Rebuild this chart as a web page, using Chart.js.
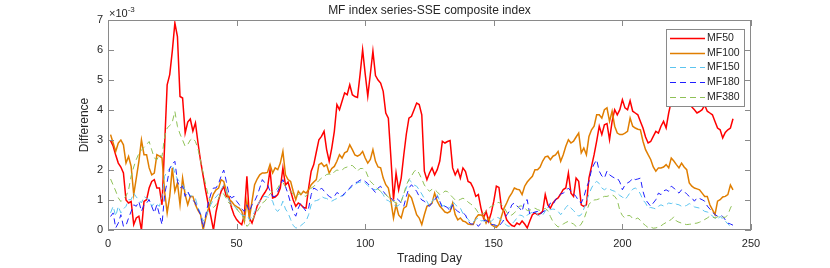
<!DOCTYPE html>
<html>
<head>
<meta charset="utf-8">
<script src="https://cdn.jsdelivr.net/npm/chart.js@4/dist/chart.umd.min.js"></script>
<style>
  html, body { margin: 0; padding: 0; background: #fff; }
  #wrap { width: 830px; height: 268px; }
</style>
</head>
<body>
<div id="wrap"><canvas id="myChart" width="830" height="268"></canvas></div>
<script>
// x positions: trading day index 1..243
const tradingDays = Array.from({ length: 243 }, (_, i) => i + 1);
const xTicks = [0, 50, 100, 150, 200, 250];
const yTicks = [0, 1, 2, 3, 4, 5, 6, 7];
const seriesNames = ['MF50', 'MF100', 'MF150', 'MF180', 'MF380'];

// values in units of 1e-3
const mf50 = [
  2.98, 2.8, 2.5, 2.23, 2.1, 1.9, 1.0, 0.9, 0.95, 0.18,
  0.4, 0.46, 0.0, 0.95, 1.01, 1.4, 1.62, 1.68, 1.4, 1.4,
  0.84, 2.8, 4.84, 5.18, 5.96, 6.9, 6.45, 4.45, 4.4, 3.23,
  3.6, 3.7, 3.3, 3.57, 2.9, 2.3, 1.8, 1.3, 0.85, 0.45,
  0.0, 0.6, 1.0, 1.29, 1.46, 1.12, 1.12, 0.75, 0.5, 0.35,
  0.25, 0.18, 0.5, 1.79, 0.4, 0.23, 0.5, 0.8, 0.95, 1.12,
  1.25, 1.4, 2.0, 1.07, 1.1, 1.18, 1.4, 2.07, 1.5, 1.6,
  1.3, 1.0, 0.79, 0.9, 0.84, 0.75, 0.73, 1.4, 1.96, 2.18,
  2.6, 3.01, 3.12, 3.29, 2.68, 2.29, 2.73, 3.29, 4.18, 4.01,
  4.29, 4.57, 4.51, 4.84, 4.51, 4.45, 4.42, 5.18, 6.01, 5.2,
  4.46, 5.2, 5.96, 5.15, 5.0, 4.9, 4.62, 3.9, 3.73, 2.4,
  1.01, 1.9, 1.34, 1.73, 2.5, 3.2, 3.73, 3.79, 4.01, 4.23,
  4.18, 3.84, 1.96, 1.68, 1.9, 2.07, 1.84, 2.01, 2.3, 2.96,
  2.9, 2.95, 2.98, 2.07, 1.84, 2.01, 1.73, 2.07, 1.95, 1.62,
  1.57, 1.4, 1.12, 1.18, 0.73, 0.4, 0.62, 0.29, 0.57, 0.96,
  1.46, 1.42, 0.73, 0.62, 0.34, 0.23, 0.15, 0.12, 0.23, 0.18,
  0.3, 0.2, 0.07, 0.3, 0.51, 0.57, 0.51, 0.55, 0.62, 1.18,
  0.84, 0.73, 0.9, 1.01, 1.07, 1.2, 1.35, 1.4, 1.9, 1.23,
  1.12, 1.73, 1.62, 0.84, 0.79, 0.84, 1.73, 2.12, 2.51, 2.96,
  3.46, 3.18, 3.51, 3.55, 3.01, 3.62, 4.01, 3.84, 4.01, 4.34,
  4.07, 4.01, 4.31, 3.96, 3.9, 3.84, 3.62, 3.4, 3.1, 2.9,
  2.95, 3.12, 3.29, 3.23, 3.46, 3.62, 3.4, 3.9, 4.29, 4.5,
  4.6, 4.4, 4.5, 4.3, 4.18, 4.18, 4.1, 4.01, 3.9, 3.95,
  4.01, 4.16, 3.96, 3.9, 3.84, 3.62, 3.4, 3.34, 3.07, 3.25,
  3.34, 3.4, 3.71
];

const mf100 = [
  3.18, 2.9, 2.62, 2.9, 3.0, 2.84, 2.23, 2.45, 2.12, 1.18,
  1.73, 2.29, 3.0, 2.51, 2.51, 2.07, 1.84, 1.9, 2.51, 2.46,
  2.4, 1.3, 0.57, 1.12, 2.07, 1.29, 1.57, 0.84, 1.73, 1.18,
  0.84, 1.12, 1.12, 0.84, 0.65, 0.51, 0.0, 0.4, 0.7, 0.96,
  1.2, 1.34, 1.4, 1.68, 1.62, 1.3, 1.01, 0.96, 0.84, 0.78,
  0.73, 0.62, 0.29, 0.96, 0.4, 0.96, 1.51, 1.7, 1.84, 1.9,
  1.9, 1.92, 2.18, 1.9, 2.07, 2.01, 2.23, 2.62, 1.84, 1.68,
  1.62, 1.29, 1.01, 1.29, 1.18, 1.29, 1.23, 1.34, 1.51, 1.6,
  1.68, 2.18, 2.23, 2.12, 2.18, 1.9, 2.05, 2.12, 2.29, 2.51,
  2.4, 2.57, 2.62, 2.84, 2.68, 2.5, 2.46, 2.51, 2.62, 2.4,
  2.23, 2.35, 2.68, 2.29, 2.1, 2.07, 1.73, 1.51, 1.4, 0.96,
  0.4, 0.84, 0.5, 0.4, 0.73, 0.79, 1.18, 1.07, 0.79, 0.51,
  0.4, 0.18, 0.51, 0.79, 0.84, 0.9, 1.23, 0.96, 0.8, 0.7,
  0.6, 0.57, 0.62, 0.9, 0.51, 0.34, 0.4, 0.3, 0.27, 0.2,
  0.18, 0.18, 0.4, 0.51, 0.5, 0.46, 0.23, 0.4, 0.18, 0.12,
  0.09, 0.18, 0.46, 0.73, 0.9, 1.1, 1.23, 1.4, 1.36, 1.34,
  1.18, 1.46, 1.6, 1.7, 1.79, 2.01, 2.01, 2.1, 2.3, 2.44,
  2.46, 2.34, 2.46, 2.5, 2.62, 2.29, 2.51, 2.79, 3.01, 2.9,
  2.96, 3.1, 3.23, 2.57, 2.73, 2.51, 3.12, 3.34, 3.46, 3.84,
  3.84, 3.73, 4.01, 4.07, 3.62, 3.96, 3.46, 3.23, 3.18, 3.18,
  3.23, 3.29, 3.73, 3.46, 3.4, 3.36, 3.34, 2.96, 2.68, 2.51,
  2.35, 2.1, 1.96, 2.07, 2.07, 2.1, 2.18, 2.07, 2.4, 2.3,
  2.18, 2.07, 2.23, 2.1, 2.01, 1.57, 1.46, 1.4, 1.37, 1.34,
  1.23, 1.12, 1.12, 0.84, 0.68, 0.51, 0.96, 1.01, 1.1, 1.12,
  1.18, 1.5, 1.34
];

const mf150 = [
  0.57, 0.79, 0.46, 0.79, 0.57, 0.7, 0.79, 1.01, 1.01, 1.23,
  1.1, 1.01, 0.9, 1.12, 1.05, 1.01, 0.79, 0.9, 0.85, 0.79,
  1.12, 1.79, 1.95, 2.05, 2.18, 1.9, 1.7, 1.6, 1.5, 1.34,
  1.23, 1.15, 1.12, 1.05, 0.75, 0.55, 0.29, 0.45, 0.65, 0.85,
  1.01, 1.1, 1.2, 1.35, 1.5, 1.3, 1.0, 0.85, 0.79, 0.73,
  0.6, 0.5, 0.48, 0.51, 0.34, 0.45, 0.6, 0.8, 0.96, 1.1,
  1.12, 1.1, 1.07, 0.96, 0.7, 0.62, 0.73, 0.96, 0.7, 0.57,
  0.35, 0.15, 0.07, 0.07, 0.15, 0.22, 0.29, 0.51, 0.84, 0.96,
  0.98, 1.01, 1.12, 1.07, 1.05, 1.0, 0.96, 1.01, 1.05, 1.1,
  1.15, 1.18, 1.29, 1.38, 1.45, 1.51, 1.57, 1.6, 1.62, 1.57,
  1.48, 1.42, 1.36, 1.34, 1.37, 1.29, 1.18, 1.01, 0.98, 0.9,
  0.84, 0.79, 0.82, 0.95, 1.2, 1.4, 1.68, 1.6, 1.5, 1.46,
  1.34, 1.2, 1.05, 0.96, 0.79, 0.95, 1.1, 1.18, 0.96, 0.8,
  0.82, 0.78, 0.73, 0.96, 0.85, 0.77, 0.73, 0.55, 0.45, 0.36,
  0.25, 0.27, 0.35, 0.4, 0.3, 0.32, 0.28, 0.23, 0.29, 0.37,
  0.43, 0.4, 0.34, 0.25, 0.15, 0.12, 0.2, 0.29, 0.4, 0.5,
  0.48, 0.4, 0.5, 0.55, 0.6, 0.62, 0.51, 0.45, 0.5, 0.62,
  0.73, 0.68, 0.7, 0.68, 0.62, 0.51, 0.62, 0.75, 0.84, 0.73,
  0.65, 0.55, 0.46, 0.51, 0.7, 0.95, 1.2, 1.4, 1.55, 1.62,
  1.55, 1.4, 1.34, 1.4, 1.36, 1.32, 1.29, 1.23, 1.15, 1.1,
  1.01, 1.12, 1.25, 1.36, 1.4, 1.34, 1.2, 1.0, 0.9, 0.73,
  0.75, 0.73, 0.7, 0.79, 0.84, 0.8, 0.84, 0.9, 0.88, 0.92,
  0.86, 0.84, 0.79, 0.79, 0.82, 0.88, 0.84, 0.77, 0.75, 0.73,
  0.68, 0.62, 0.6, 0.57, 0.46, 0.4, 0.34, 0.46, 0.36, 0.3,
  0.2, 0.12, 0.07
];

const mf180 = [
  0.45, 0.57, 0.07, 0.23, 0.51, 0.12, 0.15, 0.4, 0.62, 0.84,
  0.79, 0.95, 0.62, 0.84, 0.9, 1.01, 0.79, 0.57, 0.84, 0.51,
  0.18, 1.18, 1.6, 2.05, 2.2, 2.29, 1.62, 1.4, 1.46, 1.12,
  1.29, 1.1, 1.0, 0.9, 0.7, 0.51, 0.07, 0.5, 0.9, 1.2,
  1.4, 1.4, 1.55, 1.8, 2.0, 1.62, 1.2, 1.07, 1.12, 0.96,
  0.85, 0.7, 0.62, 0.84, 0.62, 0.84, 0.96, 1.15, 1.4, 1.68,
  1.57, 1.51, 1.3, 1.12, 1.12, 1.29, 1.5, 1.68, 1.45, 1.2,
  0.9, 0.6, 0.46, 0.73, 0.9, 0.75, 0.62, 0.73, 1.18, 1.4,
  1.35, 1.29, 1.4, 1.3, 1.2, 1.12, 1.07, 1.12, 1.25, 1.2,
  1.12, 1.23, 1.3, 1.4, 1.5, 1.57, 1.6, 1.66, 1.68, 1.62,
  1.55, 1.45, 1.35, 1.25, 1.4, 1.46, 1.29, 1.18, 1.1, 1.07,
  0.96, 1.07, 1.0, 0.9, 0.79, 1.12, 1.4, 1.51, 1.4, 1.29,
  1.12, 1.0, 0.96, 0.84, 0.79, 0.9, 1.0, 1.12, 0.96, 0.73,
  0.79, 0.75, 0.62, 0.84, 0.7, 0.62, 0.57, 0.57, 0.5, 0.3,
  0.2, 0.2, 0.23, 0.12, 0.23, 0.3, 0.34, 0.23, 0.18, 0.18,
  0.15, 0.12, 0.23, 0.34, 0.5, 0.62, 0.84, 0.9, 0.8, 0.73,
  0.62, 0.96, 1.01, 0.51, 0.57, 0.6, 0.62, 0.51, 0.6, 0.65,
  0.73, 0.9, 0.84, 1.01, 1.12, 1.2, 1.23, 1.29, 1.4, 1.29,
  1.2, 1.12, 0.96, 0.9, 1.1, 1.4, 1.62, 2.01, 2.2, 2.34,
  1.96, 1.8, 1.73, 1.96, 1.84, 1.78, 1.73, 1.73, 1.6, 1.34,
  1.5, 1.57, 1.62, 1.73, 1.68, 1.7, 1.73, 1.29, 1.01, 0.9,
  0.79, 0.9, 1.01, 1.23, 1.18, 1.3, 1.34, 1.29, 1.46, 1.4,
  1.3, 1.23, 1.34, 1.29, 1.2, 1.12, 1.07, 0.96, 1.07, 1.05,
  1.01, 0.96, 0.8, 0.7, 0.6, 0.51, 0.46, 0.5, 0.45, 0.34,
  0.23, 0.2, 0.16
];

const mf380 = [
  1.7, 1.5, 1.3, 1.07, 0.95, 1.05, 1.12, 1.34, 1.8, 2.1,
  2.35, 2.55, 2.67, 2.75, 2.85, 2.95, 2.67, 2.4, 2.34, 2.51,
  2.45, 3.1, 3.4, 3.48, 3.6, 3.95, 3.45, 3.2, 3.0, 2.79,
  2.85, 3.0, 3.06, 2.95, 2.7, 2.3, 1.9, 1.5, 1.15, 0.85,
  0.75, 0.84, 1.05, 1.25, 1.2, 1.05, 0.9, 0.82, 0.76, 0.7,
  0.6, 0.5, 0.36, 0.12, 0.2, 0.3, 0.5, 0.62, 0.75, 0.9,
  0.96, 1.08, 1.2, 1.29, 1.3, 1.4, 1.55, 1.58, 1.45, 1.37,
  1.3, 1.2, 1.12, 1.18, 1.23, 1.15, 1.12, 1.25, 1.4, 1.45,
  1.55, 1.65, 1.73, 1.78, 1.85, 1.87, 1.84, 1.94, 2.0, 1.98,
  2.0, 2.07, 2.1, 2.15, 2.15, 2.07, 1.96, 2.05, 2.05, 2.01,
  1.8, 1.62, 1.54, 1.45, 1.36, 1.29, 1.23, 1.18, 1.1, 1.02,
  0.95, 0.9, 0.86, 0.95, 1.2, 1.5, 1.68, 1.8, 1.95, 2.01,
  1.88, 1.7, 1.5, 1.38, 1.29, 1.36, 1.35, 1.27, 1.18, 1.21,
  1.3, 1.28, 1.18, 1.09, 1.0, 0.98, 1.02, 1.06, 1.02, 0.93,
  0.87, 0.8, 0.7, 0.57, 0.52, 0.55, 0.62, 0.72, 0.79, 0.82,
  0.9, 0.92, 0.85, 0.75, 0.6, 0.48, 0.5, 0.57, 0.68, 0.8,
  0.8, 0.73, 0.65, 0.66, 0.7, 0.73, 0.68, 0.65, 0.68, 0.72,
  0.65, 0.45, 0.28, 0.18, 0.1, 0.15, 0.2, 0.25, 0.29, 0.24,
  0.2, 0.12, 0.1, 0.2, 0.35, 0.6, 0.85, 0.96, 1.0, 1.01,
  1.04, 1.08, 1.12, 1.12, 1.15, 1.17, 1.12, 1.0, 0.65, 0.48,
  0.4, 0.48, 0.48, 0.38, 0.36, 0.4, 0.32, 0.22, 0.15, 0.08,
  0.1, 0.06, 0.07, 0.1, 0.14, 0.2, 0.25, 0.3, 0.35, 0.44,
  0.3, 0.26, 0.23, 0.2, 0.18, 0.19, 0.2, 0.22, 0.23, 0.26,
  0.3, 0.35, 0.4, 0.46, 0.43, 0.4, 0.44, 0.46, 0.43, 0.42,
  0.51, 0.73, 0.9
];

const FONT = 'Liberation Sans, Arial, Helvetica, sans-serif';
const TEXT = '#262626';

// MATLAB-like box, inward ticks, titles and legend
const matlabAxes = {
    id: 'matlabAxes',
    afterDatasetsDraw(chart) {
        const { ctx, chartArea: a, scales: { x, y } } = chart;
        ctx.save();
        ctx.strokeStyle = '#8a8a8a';
        ctx.lineWidth = 1;
        ctx.strokeRect(a.left + 0.5, a.top + 0.5, a.right - a.left - 1, a.bottom - a.top - 1);

        ctx.beginPath();
        xTicks.forEach(v => {
            const px = Math.round(x.getPixelForValue(v)) + 0.5;
            ctx.moveTo(px, a.bottom); ctx.lineTo(px, a.bottom - 6);
            ctx.moveTo(px, a.top); ctx.lineTo(px, a.top + 6);
        });
        yTicks.forEach(v => {
            const py = Math.round(y.getPixelForValue(v)) + 0.5;
            ctx.moveTo(a.left, py); ctx.lineTo(a.left + 6, py);
            ctx.moveTo(a.right, py); ctx.lineTo(a.right - 6, py);
        });
        ctx.stroke();

        // title and axis labels
        ctx.fillStyle = TEXT;
        ctx.textAlign = 'center';
        ctx.textBaseline = 'middle';
        ctx.font = '12px ' + FONT;
        const cx = (a.left + a.right) / 2;
        ctx.fillText('MF index series-SSE composite index', cx, 11);
        ctx.fillText('Trading Day', cx, 259);
        ctx.save();
        ctx.translate(85, (a.top + a.bottom) / 2);
        ctx.rotate(-Math.PI / 2);
        ctx.fillText('Difference', 0, 0);
        ctx.restore();

        // exponent label
        ctx.textAlign = 'left';
        ctx.textBaseline = 'alphabetic';
        ctx.font = '11px ' + FONT;
        ctx.fillText('\u00d710', 109, 17);
        const w = ctx.measureText('\u00d710').width;
        ctx.font = '8px ' + FONT;
        ctx.fillText('-3', 109 + w, 12);

        // legend
        const lx = 666.5, ly = 29.5, lw = 78, lh = 77;
        ctx.fillStyle = '#ffffff';
        ctx.fillRect(lx, ly, lw, lh);
        ctx.strokeStyle = '#8a8a8a';
        ctx.strokeRect(lx, ly, lw, lh);
        ctx.font = '10.5px ' + FONT;
        ctx.textBaseline = 'middle';
        chart.data.datasets.forEach((ds, i) => {
            const rowY = Math.round(38 + i * 14.7) + 0.5;
            ctx.save();
            ctx.strokeStyle = ds.borderColor;
            ctx.lineWidth = ds.borderWidth;
            ctx.setLineDash(ds.borderDash || []);
            ctx.beginPath();
            ctx.moveTo(670, rowY);
            ctx.lineTo(705, rowY);
            ctx.stroke();
            ctx.restore();
            ctx.fillStyle = TEXT;
            ctx.fillText(ds.label, 707, rowY);
        });
        ctx.restore();
    }
};

const seriesData = [mf50, mf100, mf150, mf180, mf380];
const seriesColors = ['#ff0000', '#e07e00', '#5cc4ef', '#1f1fff', '#8fc157'];
const seriesWidths = [1.5, 1.5, 1, 1, 1];
const seriesDashes = [[], [], [6, 4], [6, 4], [6, 4]];

const datasets = seriesNames.map((name, i) => ({
    label: name,
    data: seriesData[i],
    borderColor: seriesColors[i],
    backgroundColor: seriesColors[i],
    borderWidth: seriesWidths[i],
    borderDash: seriesDashes[i],
    pointRadius: 0,
    tension: 0,
    fill: false,
    order: seriesNames.length - 1 - i
}));

const tickFont = { family: FONT, size: 11 };

new Chart(document.getElementById('myChart').getContext('2d'), {
    type: 'line',
    data: { labels: tradingDays, datasets: datasets },
    options: {
        responsive: false,
        animation: false,
        devicePixelRatio: 1,
        layout: { padding: { left: 0, right: 79, top: 20, bottom: 0 } },
        plugins: { legend: { display: false }, tooltip: { enabled: false }, title: { display: false } },
        scales: {
            x: {
                type: 'linear',
                min: 0,
                max: 250,
                afterBuildTicks: s => { s.ticks = xTicks.map(v => ({ value: v })); },
                afterFit: s => { s.height = 38; },
                grid: { display: false, drawTicks: false },
                border: { display: false },
                ticks: { padding: 7, color: TEXT, font: tickFont, maxRotation: 0, autoSkip: false }
            },
            y: {
                type: 'linear',
                min: 0,
                max: 7,
                afterBuildTicks: s => { s.ticks = yTicks.map(v => ({ value: v })); },
                afterFit: s => { s.width = 108; },
                grid: { display: false, drawTicks: false },
                border: { display: false },
                ticks: { padding: 5, color: TEXT, font: tickFont, autoSkip: false }
            }
        }
    },
    plugins: [matlabAxes]
});
</script>
</body>
</html>
